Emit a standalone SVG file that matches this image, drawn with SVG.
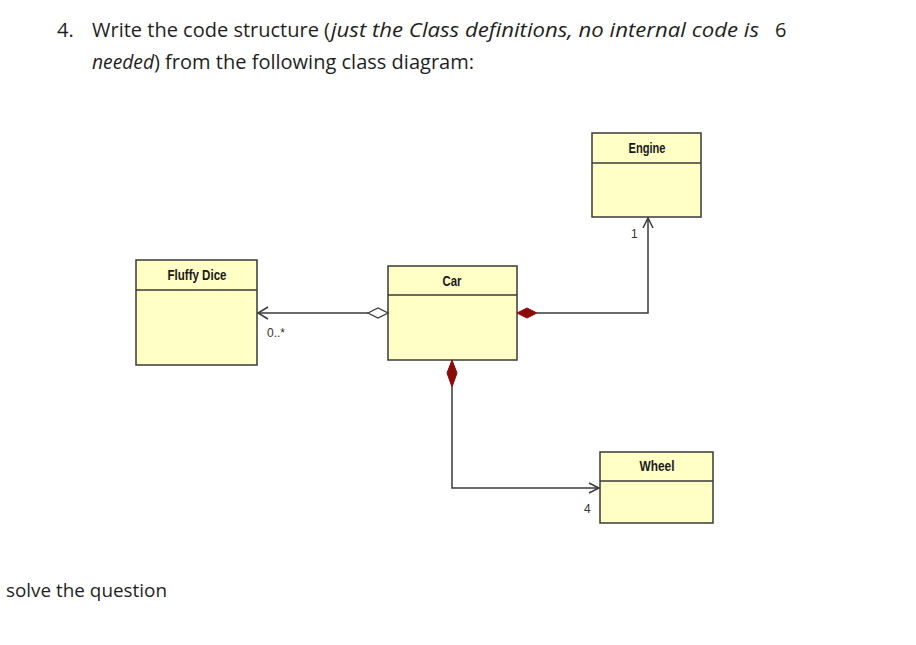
<svg xmlns="http://www.w3.org/2000/svg" width="916" height="645" viewBox="0 0 916 645">
<style>
.q{font-family:"Open Sans","Liberation Sans",sans-serif;font-size:20px;fill:#1f1f1f}
.it{font-style:italic}
.box{fill:#ffffc6;stroke:#3a3a3a;stroke-width:1.5}
.nm{font-family:"Liberation Sans",sans-serif;font-weight:bold;font-size:14.5px;fill:#1a1a1a;text-anchor:middle}
.ln{fill:none;stroke:#3a3a3a;stroke-width:1.5}
.lbl{font-family:"Liberation Sans",sans-serif;font-size:12px;fill:#333}
.comp{fill:#8b0a0a;stroke:#8b0a0a;stroke-width:1}
</style>
<rect width="916" height="645" fill="#ffffff"/>
<g id="question">
<text class="q" x="57" y="37">4.</text>
<text class="q" y="37"><tspan x="92" textLength="238" lengthAdjust="spacingAndGlyphs">Write the code structure (</tspan><tspan class="it" x="331" textLength="428" lengthAdjust="spacingAndGlyphs">just the Class definitions, no internal code is</tspan><tspan x="775">6</tspan></text>
<text class="q" y="69"><tspan class="it" x="92" textLength="62" lengthAdjust="spacingAndGlyphs">needed</tspan><tspan x="154" textLength="320" lengthAdjust="spacingAndGlyphs">) from the following class diagram:</tspan></text>
</g>
<g id="fluffy-dice">
<rect class="box" x="136" y="260" width="121" height="105"/>
<line class="ln" x1="136" y1="290" x2="257" y2="290"/>
<text class="nm" x="197" y="280" textLength="59" lengthAdjust="spacingAndGlyphs">Fluffy Dice</text>
</g>
<g id="car">
<rect class="box" x="388" y="266" width="129" height="94"/>
<line class="ln" x1="388" y1="295" x2="517" y2="295"/>
<text class="nm" x="452" y="286" textLength="19" lengthAdjust="spacingAndGlyphs">Car</text>
</g>
<g id="engine">
<rect class="box" x="592" y="133" width="109" height="84"/>
<line class="ln" x1="592" y1="163" x2="701" y2="163"/>
<text class="nm" x="647" y="153" textLength="37" lengthAdjust="spacingAndGlyphs">Engine</text>
</g>
<g id="wheel">
<rect class="box" x="600" y="452" width="113" height="71"/>
<line class="ln" x1="600" y1="481" x2="713" y2="481"/>
<text class="nm" x="657" y="471" textLength="35" lengthAdjust="spacingAndGlyphs">Wheel</text>
</g>
<g id="connectors">
<line class="ln" x1="258" y1="313" x2="368" y2="313"/>
<polygon points="368,313 378,308 388,313 378,318" fill="#ffffff" stroke="#3a3a3a" stroke-width="1.3"/>
<polyline class="ln" points="268,307 258,313 268,319" stroke-width="1.2"/>
<text class="lbl" x="267" y="337">0..*</text>
<polyline class="ln" points="537,313 648,313 648,218"/>
<polygon class="comp" points="517,313 527,308 537,313 527,318"/>
<polyline class="ln" points="643,228 648,218 653,228" stroke-width="1.2"/>
<text class="lbl" x="631" y="238">1</text>
<polyline class="ln" points="452,387 452,488 599,488"/>
<polygon class="comp" points="452,360 457,373 452,387 447,373"/>
<polyline class="ln" points="589,483 599,488 589,493" stroke-width="1.2"/>
<text class="lbl" x="584" y="513">4</text>
</g>
<g id="footer">
<text x="6" y="597" font-family="'Open Sans','Liberation Sans',sans-serif" font-size="19" fill="#1f1f1f" textLength="161" lengthAdjust="spacingAndGlyphs">solve the question</text>
</g>
</svg>
